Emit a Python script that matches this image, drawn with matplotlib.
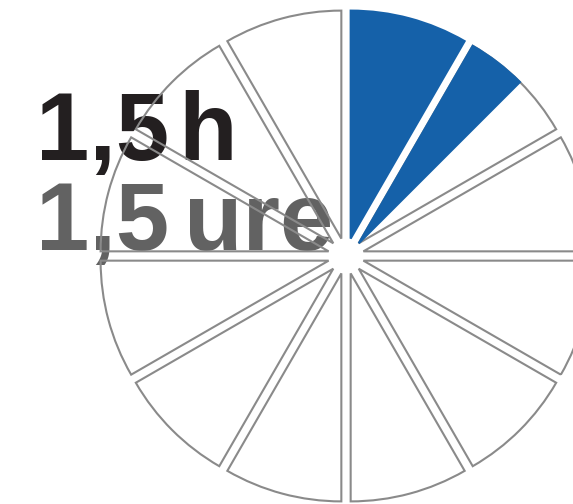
import numpy as np
import matplotlib.pyplot as plt

# 12 hour clock, 1.5 h highlighted
hours_total = 12
hours_done = 1.5
label_num = '1,5'
label_main_unit = 'h'
label_sub_unit = 'ure'

slices = [1] * hours_total
blue = '#1561a9'
grey = '#8a8a8a'

W, H = 573, 504
cx_px, cy_px = 346, 256      # pie centre in pixels (from top-left)
scale = 228                  # pixels per unit radius
gap = 18 / scale             # explode distance

fig = plt.figure(figsize=(W / 100, H / 100), dpi=100)
ax = fig.add_axes([0, 0, 1, 1])

full = int(hours_done)
colors = [blue if i < full else 'none' for i in range(hours_total)]
wedges, _ = ax.pie(slices, colors=colors, startangle=90, counterclock=False,
                   explode=[gap] * hours_total, radius=1,
                   wedgeprops=dict(linewidth=1.5))
for i, w in enumerate(wedges):
    w.set_edgecolor(blue if i < full else grey)
    w.set_zorder(3)

# the partial hour: same offset as its slice
part = hours_done - full
theta = np.deg2rad(90 - 360 * (full + 0.5) / hours_total)
pw, _ = ax.pie([full, part, hours_total - full - part],
               colors=['none', blue, 'none'], startangle=90, counterclock=False,
               center=(gap * np.cos(theta), gap * np.sin(theta)), radius=1,
               wedgeprops=dict(linewidth=1.5))
pw[1].set_edgecolor(blue)
for w in pw:
    w.set_zorder(4)
pw[0].set_edgecolor('none')
pw[2].set_edgecolor('none')

ax.set_xlim(-cx_px / scale, (W - cx_px) / scale)
ax.set_ylim(-(H - cy_px) / scale, cy_px / scale)
ax.axis('off')

# text sits under the pie outlines
txt = dict(fontsize=69, fontweight='bold', family='Liberation Sans',
           va='baseline', zorder=1, transform=fig.transFigure)
dark, mid = '#231f20', '#626262'
ax.text(36 / W, 1 - 160 / H, label_num, color=dark, **txt)
ax.text(178 / W, 1 - 160 / H, label_main_unit, color=dark, **txt)
ax.text(36 / W, 1 - 250 / H, label_num, color=mid, **txt)
ax.text(184 / W, 1 - 250 / H, label_sub_unit, color=mid, **txt)

fig.savefig('out.png', dpi=100)
